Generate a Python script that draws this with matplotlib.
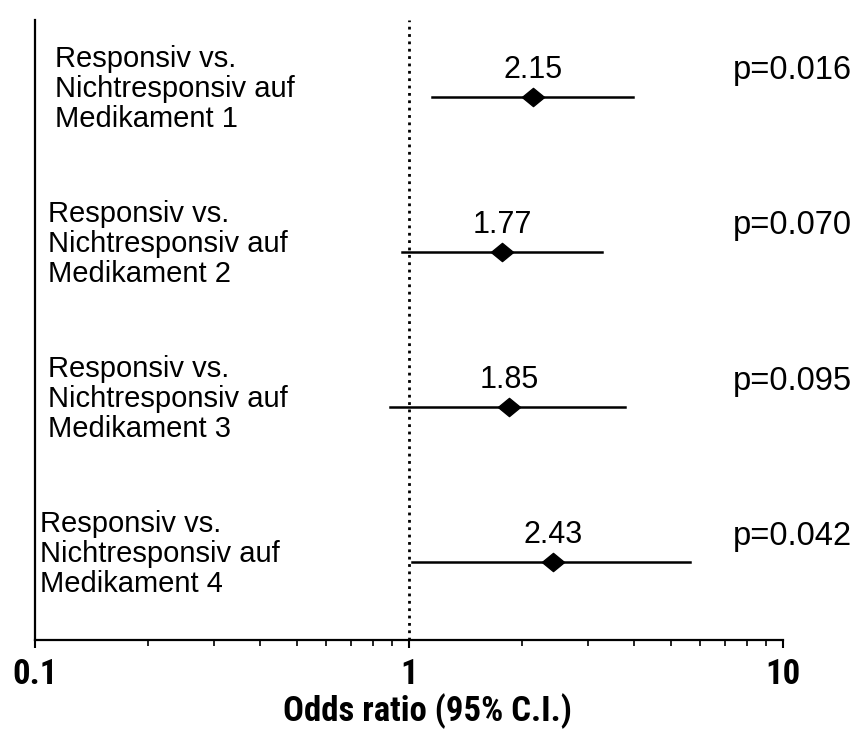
import matplotlib
matplotlib.use("Agg")
import matplotlib.pyplot as plt
from matplotlib.ticker import FixedLocator, LogLocator, NullFormatter

plt.rcParams['font.family'] = ['Liberation Sans', 'DejaVu Sans']

# Odds ratios with 95% CI
labels = ["Responsiv vs.\nNichtresponsiv auf\nMedikament 1",
          "Responsiv vs.\nNichtresponsiv auf\nMedikament 2",
          "Responsiv vs.\nNichtresponsiv auf\nMedikament 3",
          "Responsiv vs.\nNichtresponsiv auf\nMedikament 4"]
odds = [2.15, 1.77, 1.85, 2.43]
ci_low = [1.15, 0.96, 0.89, 1.02]
ci_high = [3.97, 3.28, 3.78, 5.64]
pvals = ["p=0.016", "p=0.070", "p=0.095", "p=0.042"]
xticks = [0.1, 1, 10]
xticklabels = ["0.1", "1", "10"]

# label x offsets (axes fraction), rows are slightly staggered in the original
label_x = [0.027, 0.017, 0.017, 0.007]

fig = plt.figure(figsize=(8.55, 7.31), dpi=100)
ax = fig.add_axes([0.041, 0.1245, 0.875, 0.8485])

rows = [3, 2, 1, 0]
diamond = [(-1, 0), (0, 0.82), (1, 0), (0, -0.82), (-1, 0)]
bold_font = dict(family=['Roboto Condensed', 'Liberation Sans'], fontweight='bold')

ax.axvline(1, color='black', linestyle=':', linewidth=2)

for i, y in enumerate(rows):
    ax.plot([ci_low[i], ci_high[i]], [y, y], color='black', linewidth=1.8)
    ax.plot(odds[i], y, marker=diamond, markersize=16, color='black')
    ax.text(odds[i], y + 0.08, f"{odds[i]:.2f}", ha='center', va='bottom', fontsize=22)
    ax.text(label_x[i], y + 0.055, labels[i], transform=ax.get_yaxis_transform(),
            ha='left', va='center', fontsize=21, linespacing=1.1)
    ax.text(1.092, y + 0.17, pvals[i], transform=ax.get_yaxis_transform(),
            ha='right', va='center', fontsize=23.5, clip_on=False)

ax.set_xscale('log')
ax.set_xlim(0.1, 10)
ax.set_ylim(-0.5, 3.5)

ax.xaxis.set_major_locator(FixedLocator(xticks))
ax.set_xticklabels(xticklabels, fontsize=25, **bold_font)
ax.xaxis.set_minor_locator(LogLocator(base=10, subs=range(2, 10)))
ax.xaxis.set_minor_formatter(NullFormatter())
ax.tick_params(axis='x', which='major', length=6, width=1.5, pad=7)
ax.tick_params(axis='x', which='minor', length=4, width=1.2)
ax.set_yticks([])

# x label sits very close to the bottom edge, so place it on the figure
fig.text(0.5, 0.003, "Odds ratio (95% C.I.)", ha='center', va='bottom',
         fontsize=25, **bold_font)

for side in ['top', 'right']:
    ax.spines[side].set_visible(False)
ax.spines['left'].set_linewidth(1.6)
ax.spines['bottom'].set_linewidth(1.6)

plt.savefig("out.png", dpi=100)
